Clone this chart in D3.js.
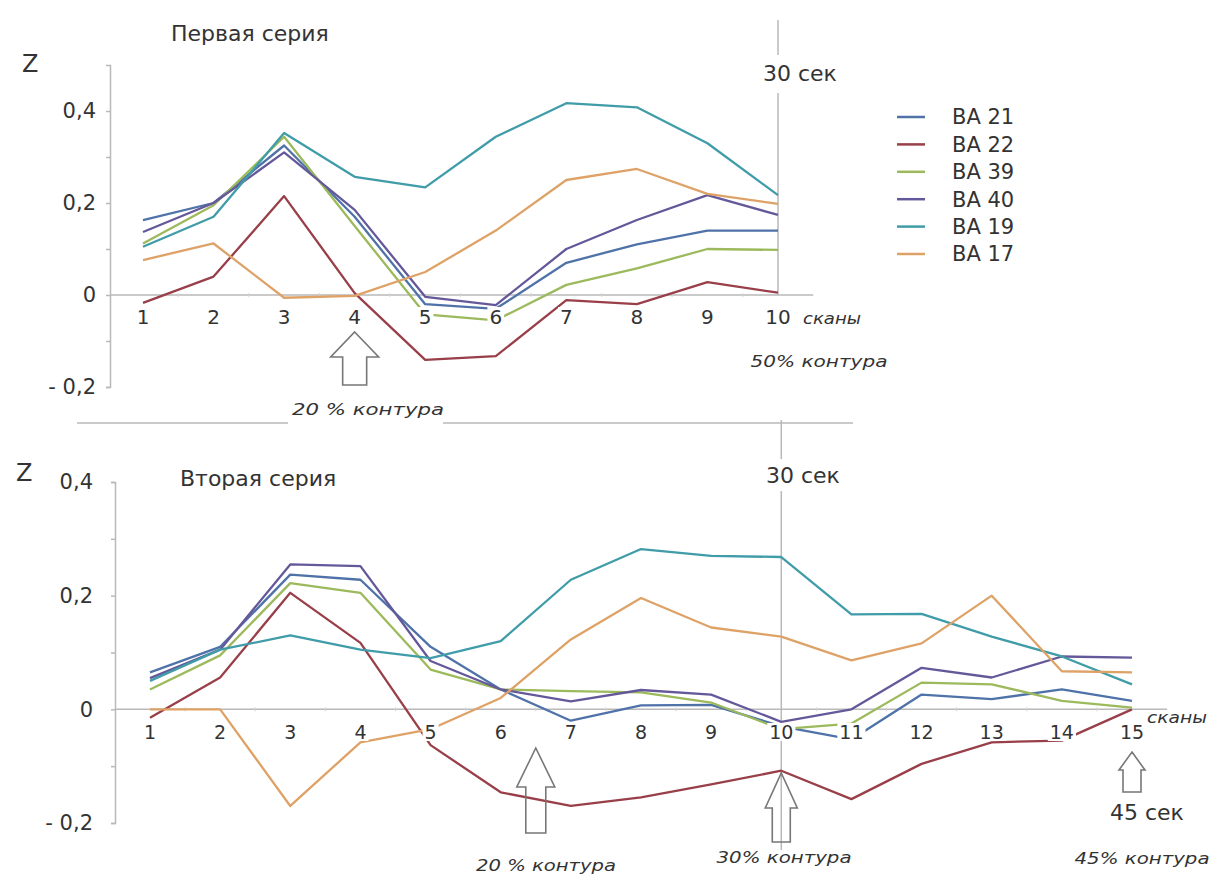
<!DOCTYPE html>
<html><head><meta charset="utf-8">
<script src="https://cdn.jsdelivr.net/npm/d3@7/dist/d3.min.js"></script>
<style>
html,body{margin:0;padding:0;background:#fff;}
text{font-family:"DejaVu Sans",Verdana,sans-serif;fill:#333;}
</style></head>
<body>
<svg id="chart" width="1214" height="877"></svg>
<script>
// ---------- DATA ----------
const seriesNames = ["BA 21","BA 22","BA 39","BA 40","BA 19","BA 17"];
const seriesColors = ["#4f72a8","#983f49","#9cba5c","#65589a","#3f9ca8","#dea267"];

const scans1 = [1,2,3,4,5,6,7,8,9,10];
const ba21_1 = [0.163, 0.2, 0.325, 0.17, -0.02, -0.03, 0.07, 0.11, 0.14, 0.14];
const ba22_1 = [-0.017, 0.04, 0.215, 0.004, -0.141, -0.133, -0.011, -0.02, 0.028, 0.005];
const ba39_1 = [0.112, 0.195, 0.344, 0.15, -0.042, -0.055, 0.022, 0.058, 0.1, 0.098];
const ba40_1 = [0.137, 0.2, 0.31, 0.185, -0.004, -0.022, 0.1, 0.163, 0.217, 0.174];
const ba19_1 = [0.105, 0.17, 0.352, 0.257, 0.234, 0.344, 0.417, 0.408, 0.33, 0.217];
const ba17_1 = [0.076, 0.112, -0.006, -0.002, 0.05, 0.14, 0.25, 0.274, 0.22, 0.198];

const scans2 = [1,2,3,4,5,6,7,8,9,10,11,12,13,14,15];
const ba21_2 = [0.065, 0.11, 0.237, 0.228, 0.11, 0.035, -0.02, 0.007, 0.008, -0.03, -0.053, 0.026, 0.018, 0.035, 0.015];
const ba22_2 = [-0.015, 0.056, 0.205, 0.117, -0.063, -0.146, -0.17, -0.155, -0.132, -0.108, -0.158, -0.096, -0.058, -0.055, 0.0];
const ba39_2 = [0.035, 0.095, 0.222, 0.205, 0.07, 0.035, 0.032, 0.03, 0.012, -0.035, -0.025, 0.047, 0.044, 0.015, 0.003];
const ba40_2 = [0.055, 0.105, 0.255, 0.252, 0.085, 0.035, 0.014, 0.034, 0.026, -0.022, 0.0, 0.073, 0.056, 0.093, 0.091];
const ba19_2 = [0.05, 0.105, 0.13, 0.105, 0.09, 0.12, 0.228, 0.282, 0.27, 0.268, 0.167, 0.168, 0.128, 0.093, 0.044];
const ba17_2 = [0.0, 0.0, -0.17, -0.058, -0.035, 0.02, 0.123, 0.196, 0.144, 0.128, 0.086, 0.116, 0.2, 0.067, 0.065];

const yTickValues = [-0.2, -0.1, 0, 0.1, 0.2, 0.3, 0.4];
const yTickLabels = {"-0.2":"- 0,2", "0":"0", "0.2":"0,2", "0.4":"0,4"};

const title1 = "Первая серия";
const title2 = "Вторая серия";

// ---------- DRAW ----------
const svg = d3.select("#chart");
const AXIS = "#b9b9b9";
const FONT = '"DejaVu Sans",Verdana,sans-serif';

function drawPanel(cfg){
  const g = svg.append("g");
  const x = d3.scaleLinear().domain([1, cfg.scans.length]).range(cfg.xRange);
  const y = d3.scaleLinear().domain(cfg.yDomain).range(cfg.yRange);

  const yAxis = d3.axisLeft(y).tickValues(yTickValues).tickSize(4)
      .tickFormat(d => { const k = String(+d.toFixed(1)); return yTickLabels[k] || ""; })
      .tickPadding(cfg.yPad);
  const ya = g.append("g").attr("transform", `translate(${cfg.axisX},0)`).call(yAxis);
  ya.select(".domain").attr("stroke", AXIS).attr("stroke-width", 1.5);
  ya.selectAll(".tick line").attr("stroke", AXIS).attr("stroke-width", 1.5);
  ya.selectAll(".tick text").attr("font-size", 21).attr("fill", "#333").style("font-family", FONT);

  g.append("line").attr("x1", cfg.axisX).attr("x2", x(cfg.scans.length + 0.5))
    .attr("y1", y(0)).attr("y2", y(0)).attr("stroke", AXIS).attr("stroke-width", 1.5);
  g.selectAll(".mt").data(cfg.scans.slice(0, -1)).enter().append("line")
    .attr("x1", d => x(d + 0.5)).attr("x2", d => x(d + 0.5))
    .attr("y1", y(0) - 2).attr("y2", y(0) + 2).attr("stroke", "#d4d4d4");

  const vx = x(10);
  cfg.vSegments.forEach(s => {
    g.append("line").attr("x1", vx).attr("x2", vx).attr("y1", s[0]).attr("y2", s[1])
      .attr("stroke", AXIS).attr("stroke-width", 1.5);
  });

  const line = d3.line().x((d, i) => x(cfg.scans[i])).y(d => y(d));
  cfg.series.forEach((vals, si) => {
    g.append("path").datum(vals).attr("d", line).attr("fill", "none")
      .attr("stroke", seriesColors[si]).attr("stroke-width", 2.3)
      .attr("stroke-linejoin", "round");
  });

  const xl = g.selectAll(".xl").data(cfg.scans).enter().append("g")
    .attr("transform", d => `translate(${x(d)},${y(0) + cfg.xLabelDy})`);
  xl.append("rect");
  xl.append("text").text(d => d).attr("text-anchor", "middle").attr("dy", "0.35em")
    .attr("font-size", cfg.xFont);
  xl.each(function(){
    const t = d3.select(this).select("text").node().getBBox();
    d3.select(this).select("rect").attr("x", t.x - 2).attr("y", t.y + 2)
      .attr("width", t.width + 4).attr("height", t.height - 4).attr("fill", "#fff");
  });

  g.append("text").attr("x", cfg.scanLabel[0]).attr("y", cfg.scanLabel[1]).attr("dy", "0.35em")
    .attr("font-size", 15).attr("font-style", "italic").text("сканы")
    .attr("textLength", cfg.scanLabel[2]).attr("lengthAdjust", "spacingAndGlyphs");

  g.append("text").attr("x", cfg.title[1]).attr("y", cfg.title[2]).attr("dy", "0.35em")
    .attr("font-size", 22).text(cfg.title[0]);
  g.append("text").attr("x", cfg.z[0]).attr("y", cfg.z[1]).attr("dy", "0.35em")
    .attr("font-size", 24).text("Z");

  g.append("text").attr("x", cfg.sec30[0]).attr("y", cfg.sec30[1]).attr("dy", "0.35em")
    .attr("font-size", 22).text("30 сек");

  return {x, y, g};
}

function arrow(g, cx, tip, head, bottom, hh, sh){
  const p = d3.path();
  p.moveTo(cx, tip); p.lineTo(cx + hh, head); p.lineTo(cx + sh, head);
  p.lineTo(cx + sh, bottom); p.lineTo(cx - sh, bottom); p.lineTo(cx - sh, head);
  p.lineTo(cx - hh, head); p.closePath();
  g.append("path").attr("d", p.toString()).attr("fill", "none")
    .attr("stroke", "#777").attr("stroke-width", 1.6).attr("stroke-linejoin", "miter");
}
function note(g, txt, cx, cy, w, size){
  g.append("text").attr("x", cx).attr("y", cy).attr("dy", "0.35em").attr("text-anchor", "middle")
    .attr("font-size", size || 16).attr("font-style", "italic").text(txt)
    .attr("textLength", w).attr("lengthAdjust", "spacingAndGlyphs");
}

const panelTop = drawPanel({
  scans: scans1,
  series: [ba21_1, ba22_1, ba39_1, ba40_1, ba19_1, ba17_1],
  xRange: [143, 778], yDomain: [-0.2, 0.5], yRange: [387, 65],
  axisX: 110, yPad: 10, xLabelDy: 22, xFont: 20,
  vSegments: [[20, 55], [93, 295]],
  scanLabel: [803, 319, 58],
  title: [title1, 171, 33], z: [22, 64], sec30: [763, 73]
});
arrow(panelTop.g, panelTop.x(4), 332, 357, 385, 24, 12);
note(panelTop.g, "20 % контура", 368, 409, 152);
note(panelTop.g, "50% контура", 819, 361, 137);

svg.append("line").attr("x1", 77).attr("x2", 288).attr("y1", 423).attr("y2", 423).attr("stroke", AXIS).attr("stroke-width", 1.5);
svg.append("line").attr("x1", 443).attr("x2", 853).attr("y1", 423).attr("y2", 423).attr("stroke", AXIS).attr("stroke-width", 1.5);

const panelBot = drawPanel({
  scans: scans2,
  series: [ba21_2, ba22_2, ba39_2, ba40_2, ba19_2, ba17_2],
  xRange: [150, 1132], yDomain: [-0.2, 0.4], yRange: [823, 482],
  axisX: 115, yPad: 18, xLabelDy: 23, xFont: 19,
  vSegments: [[420, 459], [491, 850]],
  scanLabel: [1147, 718, 60],
  title: [title2, 180, 478], z: [16, 473], sec30: [766, 475]
});
arrow(panelBot.g, panelBot.x(6.5), 748, 787, 833, 19, 10);
arrow(panelBot.g, panelBot.x(10), 773, 808, 842, 16, 9);
arrow(panelBot.g, panelBot.x(15), 752, 770, 792, 13, 9);
note(panelBot.g, "20 % контура", 546, 865, 140);
note(panelBot.g, "30% контура", 784, 857, 135);
note(panelBot.g, "45% контура", 1142, 858, 135);
panelBot.g.append("text").attr("x", 1110).attr("y", 812).attr("dy", "0.35em").attr("font-size", 22).text("45 сек");

const leg = svg.append("g");
const lgY = d3.scalePoint().domain(seriesNames).range([117, 254]);
seriesNames.forEach((n, i) => {
  leg.append("line").attr("x1", 897).attr("x2", 925).attr("y1", lgY(n)).attr("y2", lgY(n))
    .attr("stroke", seriesColors[i]).attr("stroke-width", 2.5);
  leg.append("text").attr("x", 952).attr("y", lgY(n)).attr("dy", "0.35em")
    .attr("font-size", 21).text(n);
});
</script>
</body></html>
